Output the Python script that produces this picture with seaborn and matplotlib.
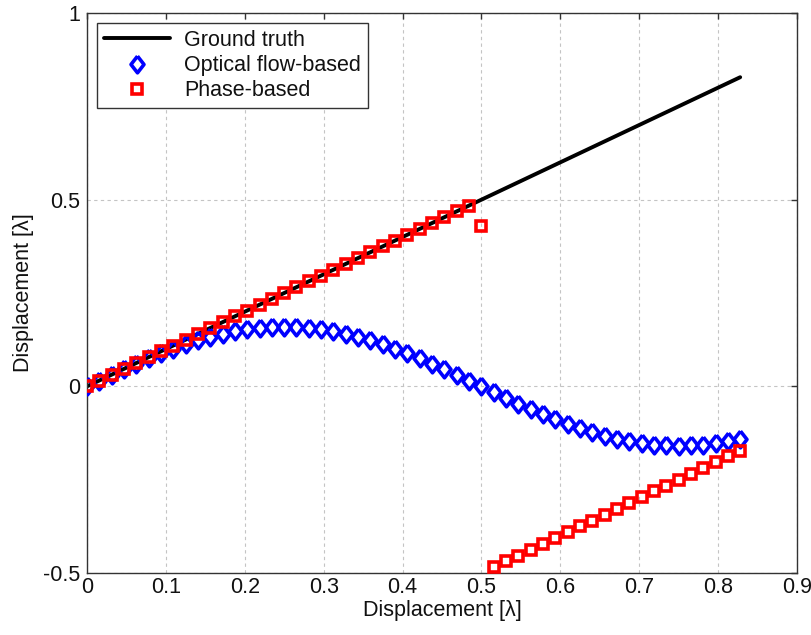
import matplotlib
matplotlib.use("Agg")
import matplotlib.pyplot as plt
import seaborn as sns

# Data
x_vals = [0.0, 0.0156, 0.0313, 0.0469, 0.0625, 0.0781, 0.0938, 0.1094, 0.125, 0.1406,
          0.1563, 0.1719, 0.1875, 0.2031, 0.2188, 0.2344, 0.25, 0.2656, 0.2813, 0.2969,
          0.3125, 0.3281, 0.3438, 0.3594, 0.375, 0.3906, 0.4063, 0.4219, 0.4375, 0.4531,
          0.4688, 0.4844, 0.5, 0.5156, 0.5313, 0.5469, 0.5625, 0.5781, 0.5938, 0.6094,
          0.625, 0.6406, 0.6563, 0.6719, 0.6875, 0.7031, 0.7188, 0.7344, 0.75, 0.7656,
          0.7813, 0.7969, 0.8125, 0.8281]
optical_flow = [0.0, 0.0156, 0.0311, 0.0462, 0.0609, 0.0750, 0.0884, 0.1010, 0.1125, 0.1230,
                0.1323, 0.1404, 0.1470, 0.1523, 0.1561, 0.1584, 0.1592, 0.1584, 0.1561, 0.1523,
                0.1470, 0.1404, 0.1323, 0.1230, 0.1125, 0.1010, 0.0884, 0.0750, 0.0609, 0.0462,
                0.0311, 0.0156, 0.0, -0.0156, -0.0311, -0.0462, -0.0609, -0.0750, -0.0884, -0.1010,
                -0.1125, -0.1230, -0.1323, -0.1404, -0.1470, -0.1523, -0.1561, -0.1584, -0.1592, -0.1584,
                -0.1561, -0.1523, -0.1470, -0.1404]
phase_based = [0.0, 0.0156, 0.0313, 0.0469, 0.0625, 0.0781, 0.0938, 0.1094, 0.125, 0.1406,
               0.1563, 0.1719, 0.1875, 0.2031, 0.2188, 0.2344, 0.25, 0.2656, 0.2813, 0.2969,
               0.3125, 0.3281, 0.3438, 0.3594, 0.375, 0.3906, 0.4063, 0.4219, 0.4375, 0.4531,
               0.4688, 0.4844, 0.43, -0.4844, -0.4688, -0.4531, -0.4375, -0.4219, -0.4063, -0.3906,
               -0.375, -0.3594, -0.3438, -0.3281, -0.3125, -0.2969, -0.2813, -0.2656, -0.25, -0.2344,
               -0.2188, -0.2031, -0.1875, -0.1719]
truth_x = [0.0, 0.828]
truth_y = [0.0, 0.828]
x_ticks = [0, 0.1, 0.2, 0.3, 0.4, 0.5, 0.6, 0.7, 0.8, 0.9]
x_tick_labels = ["0", "0.1", "0.2", "0.3", "0.4", "0.5", "0.6", "0.7", "0.8", "0.9"]
y_ticks = [-0.5, 0, 0.5, 1]
y_tick_labels = ["-0.5", "0", "0.5", "1"]

sns.set_style("white")
plt.rcParams['font.family'] = ['Liberation Sans', 'DejaVu Sans']

FS = 15.5
diamond = [(0, 1), (0.78, 0), (0, -1), (-0.78, 0), (0, 1)]

fig = plt.figure(figsize=(8.12, 6.35), dpi=100)
ax = fig.add_axes([0.1071, 0.0976, 0.8744, 0.8819])

sns.lineplot(x=truth_x, y=truth_y, ax=ax, color="black", linewidth=2.8,
             label="Ground truth", zorder=2)
sns.lineplot(x=x_vals, y=optical_flow, ax=ax, linestyle="", marker=diamond,
             markersize=12, markerfacecolor="none", markeredgecolor="blue",
             markeredgewidth=2.6, color="blue", label="Optical flow-based", zorder=3)
sns.lineplot(x=x_vals, y=phase_based, ax=ax, linestyle="", marker="s",
             markersize=7.6, markerfacecolor="none", markeredgecolor="red",
             markeredgewidth=2.6, color="red", label="Phase-based", zorder=4)

ax.set_xlim(0, 0.9)
ax.set_ylim(-0.5, 1)
ax.set_xticks(x_ticks)
ax.set_xticklabels(x_tick_labels)
ax.set_yticks(y_ticks)
ax.set_yticklabels(y_tick_labels)
ax.tick_params(direction="in", top=True, right=True, length=4.5, labelsize=FS,
               color="#333333", labelcolor="#111111", width=1.0)
ax.tick_params(axis="x", pad=3)
ax.tick_params(axis="y", pad=5)
ax.grid(True, linestyle=(0, (3, 3)), color="#c4c4c4", linewidth=0.8)
for s in ax.spines.values():
    s.set_color("#333333")
    s.set_linewidth(1.0)

ax.set_xlabel("Displacement [λ]", fontsize=FS, labelpad=1, color="#111111")
ax.set_ylabel("Displacement [λ]", fontsize=FS, labelpad=6.5, color="#111111")

leg = ax.legend(loc="upper left", fontsize=FS, frameon=True, fancybox=False,
                edgecolor="#333333", handlelength=3.1, borderaxespad=0.46,
                borderpad=0.32, labelspacing=0.2, handletextpad=0.65)
leg.get_frame().set_linewidth(1.0)
leg.get_frame().set_alpha(1)
for t in leg.get_texts():
    t.set_color("#111111")

fig.savefig("out.png", dpi=100)
